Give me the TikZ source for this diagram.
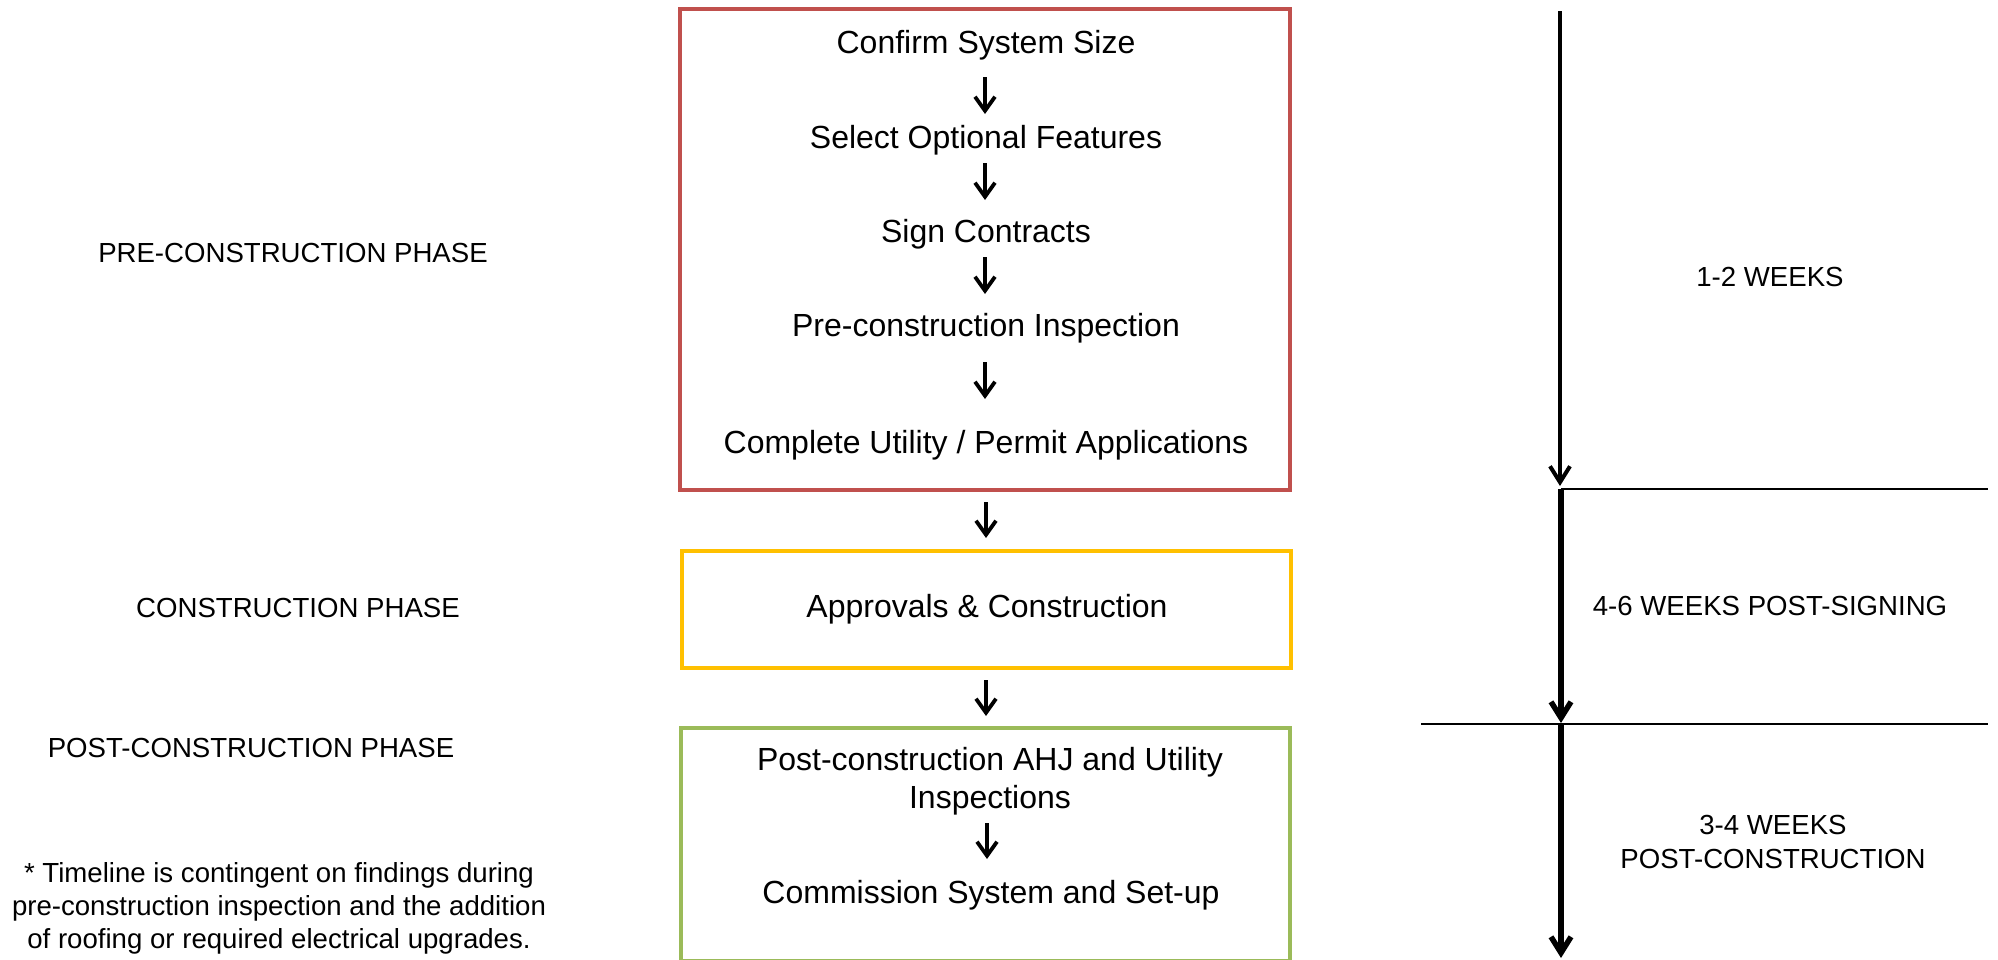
\documentclass[tikz,border=0pt]{standalone}
\usepackage{fontspec}
\setmainfont{Liberation Sans}
\usetikzlibrary{arrows.meta}
\definecolor{boxred}{HTML}{C0504D}
\definecolor{boxyellow}{HTML}{FFC000}
\definecolor{boxgreen}{HTML}{9BBB59}
\begin{document}
\begin{tikzpicture}[x=0.5pt,y=-0.5pt,
  steptext/.style={inner sep=0pt, anchor=base, font=\fontsize{16pt}{19.5pt}\selectfont},
  labeltext/.style={inner sep=0pt, anchor=base, font=\fontsize{13.8pt}{16.5pt}\selectfont},
  phasebox/.style={draw, line width=2pt, inner sep=0pt},
  smallarrow/.style={line width=1.9pt, -{Straight Barb[length=7pt,width=10pt]}},
  timearrow/.style={-{Straight Barb[length=8pt,width=10pt]}},
  divider/.style={line width=1pt}
]
\useasboundingbox (0,0) rectangle (1998,959);

% phase boxes
\node[phasebox, draw=boxred, minimum width=305pt, minimum height=240.3pt] (redbox) at (984.6,249.7) {};
\node[phasebox, draw=boxyellow, minimum width=304.6pt, minimum height=58.5pt] (yellowbox) at (986.4,609.2) {};
\node[phasebox, draw=boxgreen, minimum width=304.8pt, minimum height=116.5pt] (greenbox) at (985.3,844.4) {};

% step texts
\node[steptext] (s1) at (986,53) {Confirm System Size};
\node[steptext] (s2) at (986,148) {Select Optional Features};
\node[steptext] (s3) at (986,242) {Sign Contracts};
\node[steptext] (s4) at (986,336) {Pre-construction Inspection};
\node[steptext] (s5) at (986,453) {Complete Utility / Permit Applications};
\node[steptext] (s6) at (987,617) {Approvals \& Construction};
\node[steptext] (s7a) at (990,770) {Post-construction AHJ and Utility};
\node[steptext] (s7b) at (990,808) {Inspections};
\node[steptext] (s8) at (991,903) {Commission System and Set-up};

% small arrows
\coordinate (a1s) at (985,77);  \coordinate (a1e) at (985,114);
\coordinate (a2s) at (985,163); \coordinate (a2e) at (985,200);
\coordinate (a3s) at (985,257); \coordinate (a3e) at (985,294);
\coordinate (a4s) at (985,362); \coordinate (a4e) at (985,399);
\coordinate (a5s) at (986,502); \coordinate (a5e) at (986,538);
\coordinate (a6s) at (986,680); \coordinate (a6e) at (986,716);
\coordinate (a7s) at (987,823); \coordinate (a7e) at (987,859);
\draw[smallarrow] (a1s) -- (a1e);
\draw[smallarrow] (a2s) -- (a2e);
\draw[smallarrow] (a3s) -- (a3e);
\draw[smallarrow] (a4s) -- (a4e);
\draw[smallarrow] (a5s) -- (a5e);
\draw[smallarrow] (a6s) -- (a6e);
\draw[smallarrow] (a7s) -- (a7e);

% left phase labels
\node[labeltext] (l1) at (293,262) {PRE-CONSTRUCTION PHASE};
\node[labeltext] (l2) at (298,617) {CONSTRUCTION PHASE};
\node[labeltext] (l3) at (251,757) {POST-CONSTRUCTION PHASE};
\node[labeltext] (f1) at (279,882) {* Timeline is contingent on findings during};
\node[labeltext] (f2) at (279,915) {pre-construction inspection and the addition};
\node[labeltext] (f3) at (279,948) {of roofing or required electrical upgrades.};

% timeline
\coordinate (t0) at (1560,11);
\coordinate (t1) at (1560,486);
\coordinate (t2) at (1561,489);
\coordinate (t3) at (1561,723);
\coordinate (t4) at (1561,724);
\coordinate (t5) at (1561,958);
\coordinate (h1a) at (1561,489); \coordinate (h1b) at (1988,489);
\coordinate (h2a) at (1421,724); \coordinate (h2b) at (1988,724);
\draw[timearrow, line width=2pt] (t0) -- (t1);
\draw[timearrow, line width=2.75pt] (t2) -- (t3);
\draw[timearrow, line width=2.75pt] (t4) -- (t5);
\draw[divider] (h1a) -- (h1b);
\draw[divider] (h2a) -- (h2b);

% right time labels
\node[labeltext] (r1) at (1770,286) {1-2 WEEKS};
\node[labeltext] (r2) at (1770,615) {4-6 WEEKS POST-SIGNING};
\node[labeltext] (r3a) at (1773,834) {3-4 WEEKS};
\node[labeltext] (r3b) at (1773,868) {POST-CONSTRUCTION};
\end{tikzpicture}
\end{document}
